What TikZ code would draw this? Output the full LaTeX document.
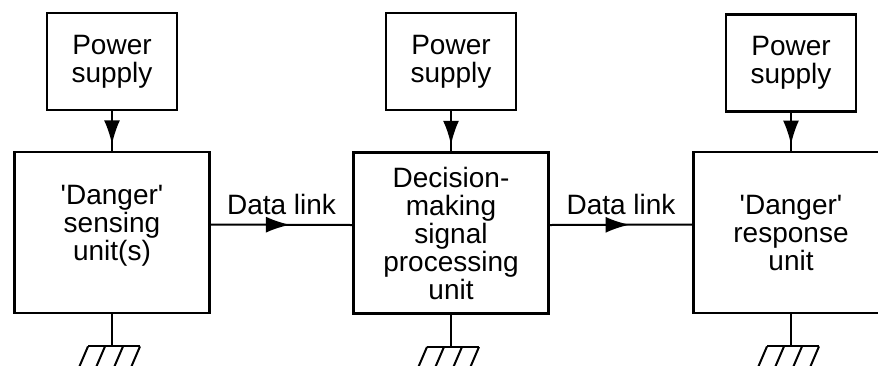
\documentclass[tikz,border=0pt]{standalone}
\usepackage{fontspec}
\setmainfont{Liberation Sans}
\usetikzlibrary{%
  arrows.meta,%
  positioning,%
  calc,%
  decorations.markings%
}

\begin{document}
\begin{tikzpicture}
[x=0.5pt, y=-0.5pt, draw=black, line width=1pt, >={Latex[length=12pt,width=8pt]},
font=\fontsize{14}{14}\selectfont,
supply/.style={rectangle, draw, line width=1.4pt, align=center, inner sep=0pt, minimum width=65pt, minimum height=48.5pt},
unit/.style={rectangle, draw, line width=1.4pt, align=center, inner sep=0pt, minimum width=97.5pt, minimum height=80.5pt},
midarrow/.style={postaction={decorate}, decoration={markings, mark=at position #1 with {\arrow{>}}}}]

\useasboundingbox (0,0) rectangle (878,365);

% power supplies
\node[supply] (pwr1) at (112,61.5) {Power\\supply};
\node[supply] (pwr2) at (451,61.5) {Power\\supply};
\node[supply] (pwr3) at (791,63) {Power\\supply};

% units
\node[unit] (unit1) at (112,232.5) {\textquotesingle Danger\textquotesingle\\sensing\\unit(s)\\[-4pt]};
\node[unit] (unit2) at (451,233) {Decision-\\making\\signal\\processing\\unit};
\node[unit] (unit3) at (791,232.5) {\textquotesingle Danger\textquotesingle\\response\\unit};

% supply lines
\draw[midarrow=0.84] (pwr1.south) -- (unit1.north);
\draw[midarrow=0.84] (pwr2.south) -- (unit2.north);
\draw[midarrow=0.84] (pwr3.south) -- (unit3.north);

% data links
\draw[midarrow=0.56] ([yshift=4pt]unit1.east) -- ([yshift=4pt]unit2.west)
  node[midway, above, inner sep=4.5pt] (link1) {Data link};
\draw[midarrow=0.56] ([yshift=4pt]unit2.east) -- ([yshift=4pt]unit3.west)
  node[midway, above, inner sep=4.5pt] (link2) {Data link};

% earth
\foreach \u in {unit1,unit2,unit3} {
  \coordinate (\u-gnd) at ($(\u.south)+(0,32)$);
  \draw (\u.south) -- (\u-gnd);
  \draw ($(\u-gnd)+(-24,0)$) -- ($(\u-gnd)+(28,0)$);
  \foreach \dx in {-24,-7,11,28}
    \draw ($(\u-gnd)+(\dx,0)$) -- ++(-9,21);
}

\end{tikzpicture}
\end{document}
